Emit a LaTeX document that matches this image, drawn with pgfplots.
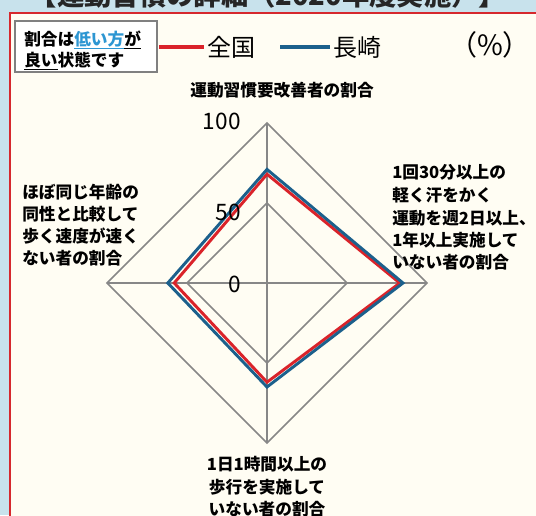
\documentclass[border=0pt]{standalone}
\usepackage{fontspec}
\setmainfont{Noto Sans CJK JP}
\usepackage{pgfplots}
\pgfplotsset{compat=1.18}

\definecolor{zenkoku}{RGB}{218,35,42}
\definecolor{nagasaki}{RGB}{28,96,140}
\definecolor{gridgray}{RGB}{135,135,135}
\definecolor{paper}{RGB}{255,253,243}
\definecolor{outside}{RGB}{200,226,236}
\definecolor{framered}{RGB}{214,40,45}
\definecolor{linkblue}{RGB}{45,150,210}

\newcommand{\lbl}{\fontsize{12.5}{15}\selectfont\bfseries}

\begin{document}
\begin{tikzpicture}
% background, title strip and frame (1 unit = 1 px of the reference)
\begin{scope}[x=0.75pt,y=-0.75pt]
  \useasboundingbox (0,0) rectangle (536,515);
  \clip (0,0) rectangle (536,515);
  \fill[outside] (0,0) rectangle (536,515);
  \node[anchor=base,inner sep=0,font=\fontsize{20.5}{22}\selectfont\bfseries,text=black!85]
    at (268,5) {【運動習慣の詳細（2020年度実施）】};
  \fill[paper] (10,13) rectangle (545,525);
  \draw[framered,line width=2.2pt] (10,525) -- (10,13) -- (545,13);
\end{scope}

\begin{axis}[
    at={(200.25pt,-212.25pt)}, anchor=origin,
    x=1.2pt, y=1.2pt,
    xmin=-160, xmax=160, ymin=-140, ymax=160,
    hide axis, clip=false,
  ]
  % grid: diamonds at 50 and 100, spokes
  \addplot[gridgray,line width=1.1pt] coordinates {(0,100)(100,0)(0,-100)(-100,0)} -- cycle;
  \addplot[gridgray,line width=1.1pt] coordinates {(0,50)(50,0)(0,-50)(-50,0)} -- cycle;
  \addplot[gridgray,line width=1.1pt] coordinates {(-100,0)(100,0)};
  \addplot[gridgray,line width=1.1pt] coordinates {(0,-100)(0,100)};

  % 全国 (top, right, bottom, left)
  \addplot[zenkoku,line width=2.2pt,data cs=polar]
    coordinates {(90,68)(0,83)(270,62)(180,58)} -- cycle;
  % 長崎
  \addplot[nagasaki,line width=2.2pt,data cs=polar]
    coordinates {(90,71)(0,85)(270,65)(180,62)} -- cycle;
\end{axis}

% texts
\begin{scope}[x=0.75pt,y=-0.75pt]
  \clip (0,0) rectangle (536,515);
  % note box
  \draw[gray,line width=1.3pt,fill=white] (15,21) rectangle (157,72);
  \node[anchor=west,inner sep=0,font=\fontsize{12.5}{14}\selectfont\bfseries]
    at (24,40) {割合は\textcolor{linkblue}{\underline{低い方}}\underline{が}};
  \node[anchor=west,inner sep=0,font=\fontsize{12.5}{14}\selectfont\bfseries]
    at (24,61) {\underline{良い}状態です};
  % legend
  \draw[zenkoku,line width=2.3pt] (159,47) -- (204,47);
  \node[anchor=west,inner sep=0,font=\fontsize{18}{20}\selectfont] at (207,47) {全国};
  \draw[nagasaki,line width=2.3pt] (280,47) -- (330,47);
  \node[anchor=west,inner sep=0,font=\fontsize{18}{20}\selectfont] at (333,47) {長崎};
  \node[inner sep=0,font=\fontsize{21}{23}\selectfont] at (490,45) {（\%）};

  % value labels
  \node[anchor=east,inner sep=0,font=\fontsize{17}{19}\selectfont] at (241,121) {100};
  \node[anchor=east,inner sep=0,font=\fontsize{17}{19}\selectfont] at (241,212) {50};
  \node[anchor=east,inner sep=0,font=\fontsize{17}{19}\selectfont] at (241,284) {0};

  % category labels
  \node[inner sep=0,font=\lbl] at (282,90) {運動習慣要改善者の割合};

  \node[anchor=west,inner sep=0,font=\lbl] at (392,172) {1回30分以上の};
  \node[anchor=west,inner sep=0,font=\lbl] at (392,195) {軽く汗をかく};
  \node[anchor=west,inner sep=0,font=\lbl] at (392,218) {運動を週2日以上、};
  \node[anchor=west,inner sep=0,font=\lbl] at (392,240) {1年以上実施して};
  \node[anchor=west,inner sep=0,font=\lbl] at (392,262) {いない者の割合};

  \node[anchor=west,inner sep=0,font=\lbl] at (22,192) {ほぼ同じ年齢の};
  \node[anchor=west,inner sep=0,font=\lbl] at (22,214) {同性と比較して};
  \node[anchor=west,inner sep=0,font=\lbl] at (22,236) {歩く速度が速く};
  \node[anchor=west,inner sep=0,font=\lbl] at (22,258) {ない者の割合};

  \node[inner sep=0,font=\lbl] at (267,464) {1日1時間以上の};
  \node[inner sep=0,font=\lbl] at (267,487) {歩行を実施して};
  \node[inner sep=0,font=\lbl] at (267,509) {いない者の割合};
\end{scope}
\end{tikzpicture}
\end{document}
